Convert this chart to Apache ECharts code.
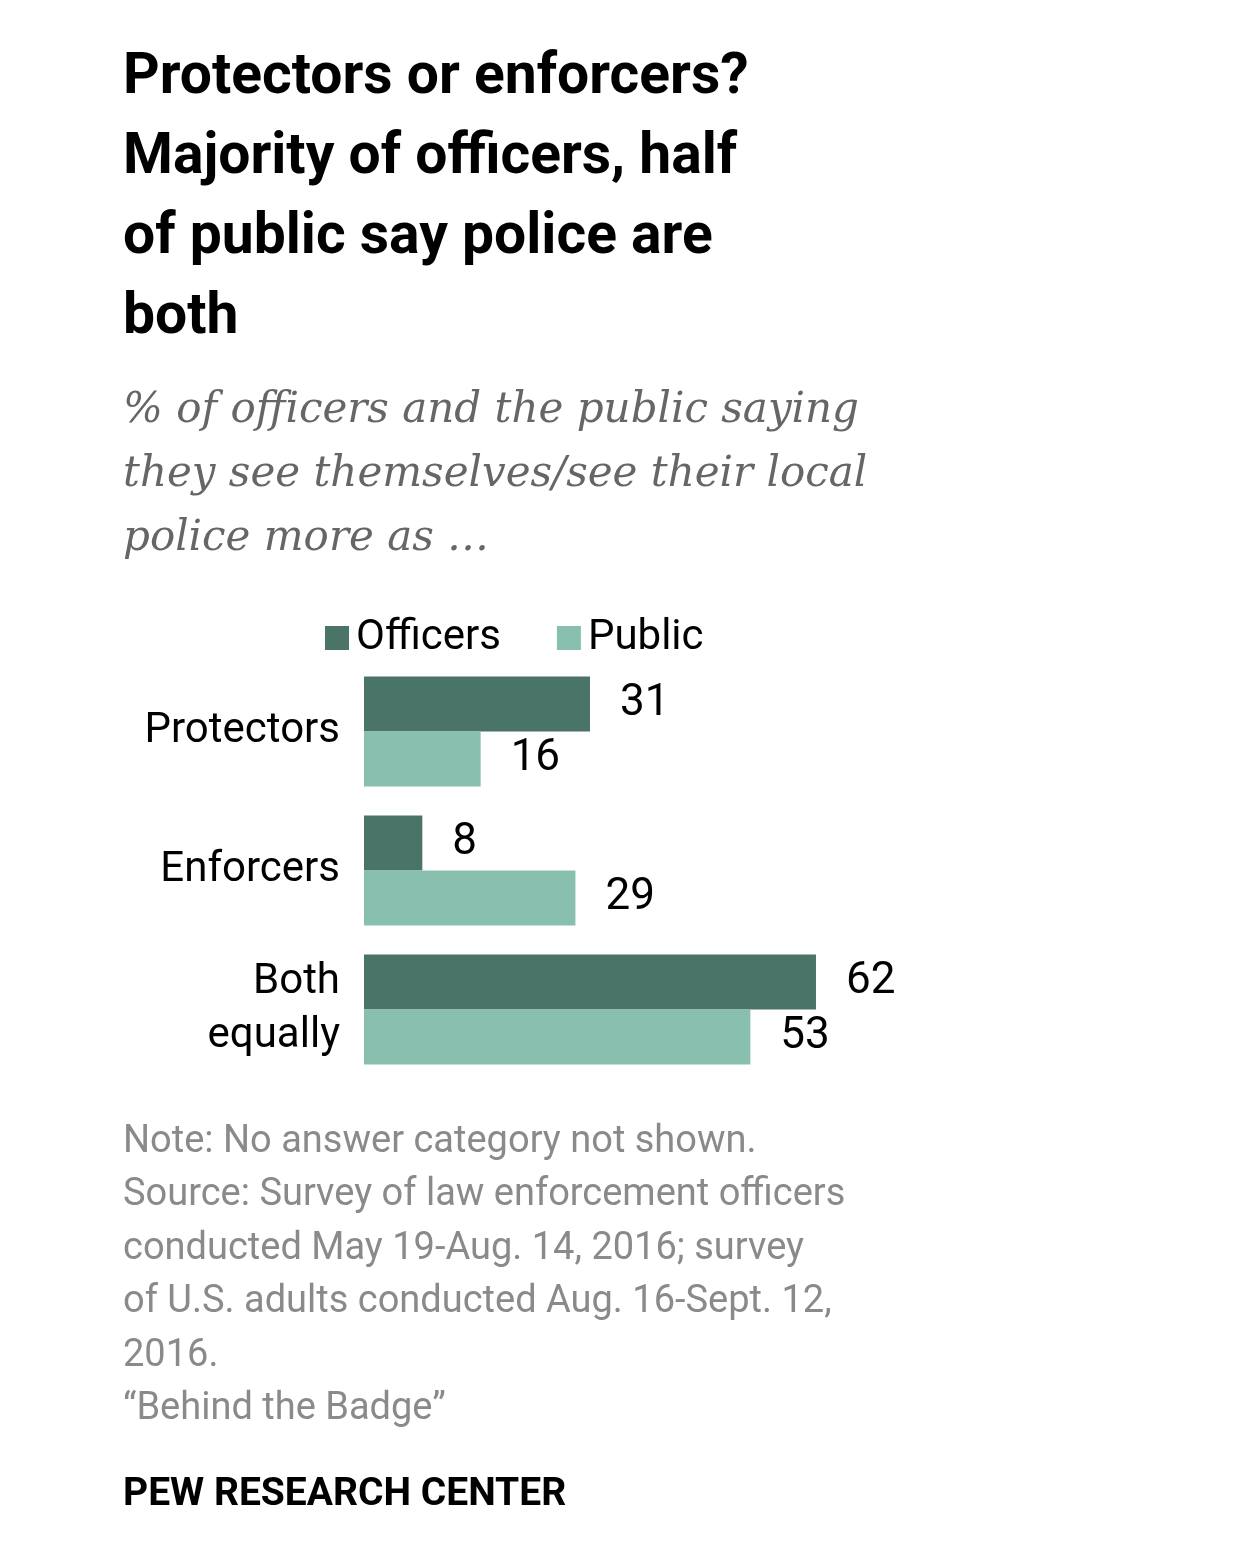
<!DOCTYPE html>
<html><head><meta charset="utf-8">
<script src="https://cdn.jsdelivr.net/npm/echarts@6/dist/echarts.min.js"></script>
<style>html,body{margin:0;background:#fff}#c{width:1257px;height:1548px}</style>
</head><body><div id="c"></div>
<script>
const categories = ["Protectors", "Enforcers", "Both\nequally"];
const officers = [31, 8, 62];
const publicVals = [16, 29, 53];
const titleLines = ["Protectors or enforcers?", "Majority of officers, half", "of public say police are", "both"];
const subtitleLines = ["% of officers and the public saying", "they see themselves/see their local", "police more as \u2026"];
const noteLines = ["Note: No answer category not shown.", "Source: Survey of law enforcement officers", "conducted May 19-Aug. 14, 2016; survey", "of U.S. adults conducted Aug. 16-Sept. 12,", "2016.", "\u201cBehind the Badge\u201d"];

const chart = echarts.init(document.getElementById('c'));
const g = [];
titleLines.forEach((t,i)=>g.push({type:'text',left:123,top:50+i*80,style:{text:t,font:'bold 57px Roboto, sans-serif',fill:'#000'}}));
subtitleLines.forEach((t,i)=>g.push({type:'text',left:123,top:390+i*64,style:{text:t,font:'italic 42px "DejaVu Serif", serif',fill:'#666'}}));
noteLines.forEach((t,i)=>g.push({type:'text',left:123,top:1123+i*53.5,style:{text:t,font:'38px Roboto, sans-serif',fill:'#8a8a8a'}}));
g.push({type:'text',left:123,top:1476,style:{text:'PEW RESEARCH CENTER',font:'bold 39px Roboto, sans-serif',fill:'#000'}});
chart.setOption({
  animation:false,
  graphic:g,
  legend:{top:612,left:320,itemWidth:24,itemHeight:24,itemGap:56,icon:'rect',
    textStyle:{fontSize:42,fontFamily:'Roboto, sans-serif',color:'#000',padding:[0,0,0,2]}},
  grid:{left:364,top:662,width:729,height:417},
  xAxis:{type:'value',min:0,max:100,show:false},
  yAxis:{type:'category',inverse:true,data:categories,axisLine:{show:false},axisTick:{show:false},
    axisLabel:{fontSize:42,fontFamily:'Roboto, sans-serif',color:'#000',margin:24,lineHeight:54}},
  series:[
    {name:'Officers',type:'bar',data:officers,barGap:'0%',barCategoryGap:'21%',itemStyle:{color:'#4a7468'},
     label:{show:true,position:'right',distance:30,fontSize:44,fontFamily:'Roboto, sans-serif',color:'#000'}},
    {name:'Public',type:'bar',data:publicVals,itemStyle:{color:'#88bfae'},
     label:{show:true,position:'right',distance:30,fontSize:44,fontFamily:'Roboto, sans-serif',color:'#000'}}
  ]
});
</script></body></html>
